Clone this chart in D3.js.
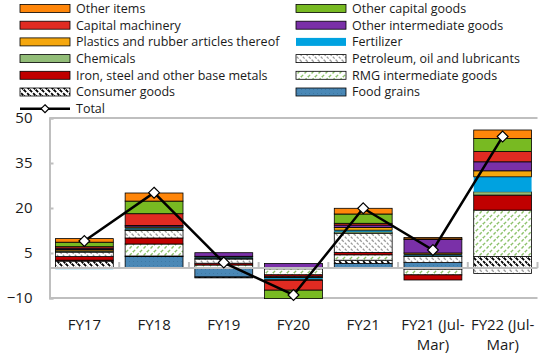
<!DOCTYPE html>
<html>
<head>
<meta charset="utf-8">
<script src="https://cdn.jsdelivr.net/npm/d3@7"></script>
<style>
  html, body { margin: 0; padding: 0; background: #fff; }
  svg { display: block; font-family: "Open Sans", "Noto Sans", sans-serif; }
</style>
</head>
<body>
<svg id="chart" width="539" height="354"></svg>
<script>
// Import growth contributions by product group (percentage points)
const categories = ["FY17", "FY18", "FY19", "FY20", "FY21", "FY21 (Jul-Mar)", "FY22 (Jul-Mar)"];
const categoryLines = [["FY17"], ["FY18"], ["FY19"], ["FY20"], ["FY21"], ["FY21 (Jul-", "Mar)"], ["FY22 (Jul-", "Mar)"]];

const foodGrains        = [0.0, 3.8, -3.0,  0.0, 1.5,  1.8,  0.0];
const consumerGoods     = [2.3, 0.2, -0.3, -0.3, 1.1, -0.4,  3.8];
const rmgIntermediate   = [0.3, 4.0,  1.0, -2.0, 1.8, -1.9, 15.5];
const ironSteel         = [1.2, 2.0,  0.6, -0.6, 0.8, -1.7,  5.0];
const petroleum         = [1.5, 2.5,  1.4, -0.3, 6.4,  2.0, -1.8];
const chemicals         = [0.4, 0.4,  0.3, -0.2, 0.5,  0.4,  1.1];
const fertilizer        = [-0.4, 0.4, 0.3, -0.5, 0.5,  0.3,  5.0];
const plastics          = [0.5, 0.4,  0.3, -0.2, 0.9,  0.5,  2.0];
const otherIntermediate = [0.4, 0.5,  1.2,  1.5, 0.8,  4.5,  3.0];
const capitalMachinery  = [0.5, 3.9,  0.0, -3.3, 0.6,  0.2,  3.4];
const otherCapital      = [1.5, 4.2,  0.0, -2.8, 3.1,  0.0,  4.4];
const otherItems        = [1.2, 2.7,  0.0,  0.0, 1.9,  0.5,  2.8];
const total             = [9.0, 25.1, 1.8, -9.0, 19.9, 6.0, 43.8];

const yTicks = [-10, 5, 20, 35, 50];

// Series in stacking order (bottom to top)
const series = [
  { key: "Food grains", values: foodGrains, fill: "url(#pFood)" },
  { key: "Consumer goods", values: consumerGoods, fill: "url(#pConsumer)" },
  { key: "RMG intermediate goods", values: rmgIntermediate, fill: "url(#pRmg)" },
  { key: "Iron, steel and other base metals", values: ironSteel, fill: "#C00000" },
  { key: "Petroleum, oil and lubricants", values: petroleum, fill: "url(#pPetro)" },
  { key: "Chemicals", values: chemicals, fill: "#92BD78" },
  { key: "Fertilizer", values: fertilizer, fill: "#00A2E0", noStroke: true },
  { key: "Plastics and rubber articles thereof", values: plastics, fill: "#F5A70E" },
  { key: "Other intermediate goods", values: otherIntermediate, fill: "#7A30A8" },
  { key: "Capital machinery", values: capitalMachinery, fill: "#E02B22" },
  { key: "Other capital goods", values: otherCapital, fill: "#78BA22" },
  { key: "Other items", values: otherItems, fill: "#FF860A" }
];

// Legend order (two columns, read row by row)
const legendOrder = [
  "Other items", "Other capital goods",
  "Capital machinery", "Other intermediate goods",
  "Plastics and rubber articles thereof", "Fertilizer",
  "Chemicals", "Petroleum, oil and lubricants",
  "Iron, steel and other base metals", "RMG intermediate goods",
  "Consumer goods", "Food grains",
  "Total"
];

const svg = d3.select("#chart");
const defs = svg.append("defs");

// Hatch patterns
function pattern(id, size, bg, draw) {
  const p = defs.append("pattern").attr("id", id)
    .attr("patternUnits", "userSpaceOnUse").attr("width", size).attr("height", size);
  p.append("rect").attr("width", size).attr("height", size).attr("fill", bg);
  draw(p);
}
pattern("pPetro", 6, "#fff", p => {
  p.append("path").attr("d", "M0,0 L6,6 M-1,5 L1,7 M5,-1 L7,1")
    .attr("stroke", "#9a9a9a").attr("stroke-width", 1.3).attr("stroke-dasharray", "2.5,1.5");
});
pattern("pRmg", 7, "#fff", p => {
  p.append("path").attr("d", "M0,7 L7,0 M-1,1 L1,-1 M6,8 L8,6")
    .attr("stroke", "#8CC26A").attr("stroke-width", 1.4).attr("stroke-dasharray", "3,2");
});
pattern("pConsumer", 6, "#fff", p => {
  p.append("path").attr("d", "M0,0 L6,6 M-1,5 L1,7 M5,-1 L7,1")
    .attr("stroke", "#000").attr("stroke-width", 1.8).attr("stroke-dasharray", "3,1.5");
});
pattern("pFood", 4, "#4A88B6", p => {
  p.append("rect").attr("x", 1).attr("y", 1).attr("width", 1).attr("height", 1).attr("fill", "#3F78A3");
});

// Scales
const x = d3.scaleBand().domain(categories).range([49.5, 537.5])
  .paddingInner(0.17).paddingOuter(0.085);
const y = d3.scaleLinear().domain([-10, 50]).range([298, 118]);

// Stacked data
const table = categories.map((c, i) => {
  const row = { category: c };
  series.forEach(s => row[s.key] = s.values[i]);
  return row;
});
const stacked = d3.stack().keys(series.map(s => s.key))
  .offset(d3.stackOffsetDiverging)(table);

const gridColor = "#BFBFBF";

// Plot frame: top and bottom lines, left axis
const frame = svg.append("g");
frame.append("line").attr("x1", x.range()[0]).attr("x2", x.range()[1])
  .attr("y1", y(50)).attr("y2", y(50)).attr("stroke", gridColor).attr("stroke-width", 2);
frame.append("line").attr("x1", x.range()[0]).attr("x2", x.range()[1])
  .attr("y1", y(-10)).attr("y2", y(-10)).attr("stroke", gridColor).attr("stroke-width", 2);

// Y axis
const yAxis = svg.append("g").attr("transform", `translate(${x.range()[0]},0)`)
  .call(d3.axisLeft(y).tickValues(yTicks).tickSize(-4).tickPadding(17).tickFormat(d3.format("d")));
yAxis.select(".domain").attr("stroke", gridColor).attr("stroke-width", 2);
yAxis.selectAll(".tick line").attr("stroke", gridColor).attr("stroke-width", 2);
yAxis.selectAll(".tick text").attr("font-size", 15).attr("fill", "#1a1a1a")
  .attr("font-family", "'Open Sans', 'Noto Sans', sans-serif");

// Bars
const barW = x.bandwidth();
const layers = svg.append("g");
stacked.forEach((layer, li) => {
  const s = series[li];
  layers.append("g").selectAll("rect")
    .data(layer.filter(d => d[1] !== d[0]))
    .join("rect")
    .attr("x", d => x(d.data.category))
    .attr("width", barW)
    .attr("y", d => y(Math.max(d[0], d[1])))
    .attr("height", d => Math.abs(y(d[0]) - y(d[1])))
    .attr("fill", s.fill)
    .attr("stroke", s.noStroke ? "none" : "#000")
    .attr("stroke-width", 0.8);
});

// Zero line with category dividers
const zeroY = y(0);
svg.append("line").attr("x1", x.range()[0]).attr("x2", x.range()[1])
  .attr("y1", zeroY).attr("y2", zeroY).attr("stroke", gridColor).attr("stroke-width", 2);
const step = x.step();
const dividers = categories.map(c => x(c) - step * x.paddingInner() / 2).slice(1)
  .concat([x.range()[1]]);
svg.append("g").selectAll("line").data(dividers).join("line")
  .attr("x1", d => d).attr("x2", d => d)
  .attr("y1", zeroY).attr("y2", zeroY - 6)
  .attr("stroke", gridColor).attr("stroke-width", 2);

// Category labels
const labels = svg.append("g").attr("font-size", 15).attr("fill", "#1a1a1a").attr("text-anchor", "middle");
categoryLines.forEach((lines, i) => {
  const cx = x(categories[i]) + barW / 2;
  const t = labels.append("text").attr("x", cx).attr("y", 330);
  lines.forEach((ln, k) => t.append("tspan").attr("x", cx).attr("dy", k === 0 ? 0 : 20).text(ln));
});

// Total line with diamond markers
const cxOf = i => x(categories[i]) + barW / 2;
svg.append("path")
  .datum(total)
  .attr("d", d3.line().x((d, i) => cxOf(i)).y(d => y(d)))
  .attr("fill", "none").attr("stroke", "#000").attr("stroke-width", 2.5);
const diamond = d3.symbol().type(d3.symbolDiamond2).size(75);
svg.append("g").selectAll("path").data(total).join("path")
  .attr("transform", (d, i) => `translate(${cxOf(i)},${y(d)})`)
  .attr("d", diamond())
  .attr("fill", "#fff").attr("stroke", "#000").attr("stroke-width", 1.2);

// Legend
const legend = svg.append("g").attr("font-size", 12.5).attr("fill", "#1a1a1a");
legendOrder.forEach((name, i) => {
  const col = i % 2, row = Math.floor(i / 2);
  const sx = col === 0 ? 20 : 296;
  const cy = 8.5 + row * 16.7;
  const g = legend.append("g");
  if (name === "Total") {
    g.append("line").attr("x1", sx).attr("x2", sx + 50).attr("y1", cy).attr("y2", cy)
      .attr("stroke", "#000").attr("stroke-width", 2.5);
    g.append("path").attr("transform", `translate(${sx + 25},${cy})`)
      .attr("d", d3.symbol().type(d3.symbolDiamond2).size(40)())
      .attr("fill", "#fff").attr("stroke", "#000").attr("stroke-width", 1.2);
  } else {
    const s = series.find(d => d.key === name);
    g.append("rect").attr("x", sx).attr("y", cy - 4).attr("width", 50).attr("height", 8)
      .attr("fill", s.fill).attr("stroke", s.noStroke ? "none" : "#000").attr("stroke-width", 0.8);
  }
  g.append("text").attr("x", sx + 56).attr("y", cy).attr("dy", "0.35em").text(name);
});
</script>
</body>
</html>
